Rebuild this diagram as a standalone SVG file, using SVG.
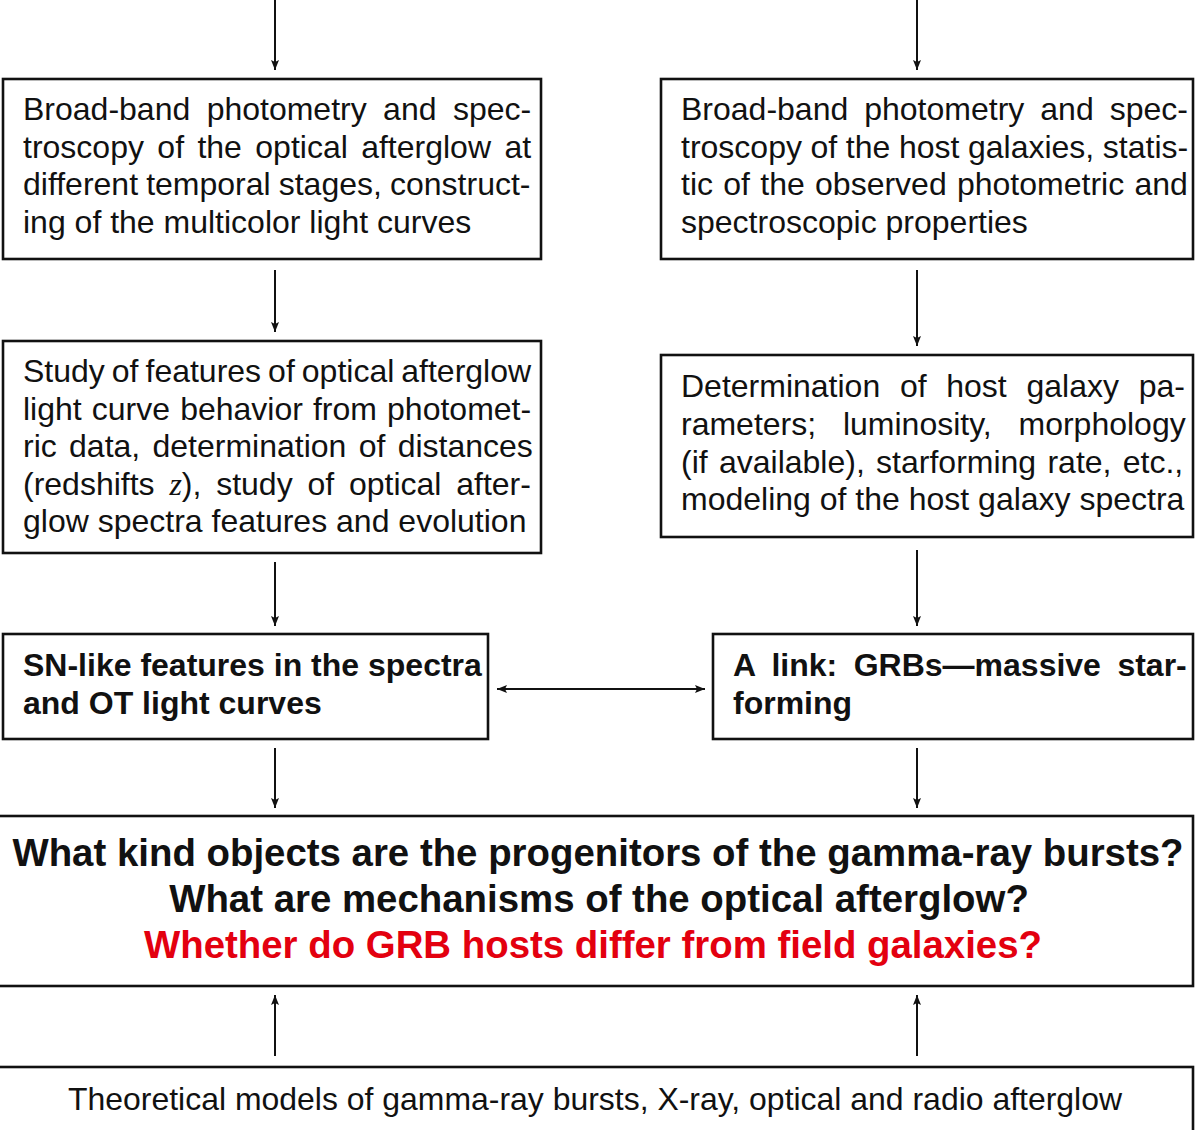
<svg xmlns="http://www.w3.org/2000/svg" width="1195" height="1130" viewBox="0 0 1195 1130">
<style>
.box{fill:#fff;stroke:#111;stroke-width:2.6}
.t{font-family:"Liberation Sans",Arial,Helvetica,sans-serif;font-size:32px;fill:#111}
.b{font-family:"Liberation Sans",Arial,Helvetica,sans-serif;font-size:32px;font-weight:bold;fill:#111}
.q{font-family:"Liberation Sans",Arial,Helvetica,sans-serif;font-size:38.4px;font-weight:bold;fill:#111;text-anchor:middle}
.red{fill:#e3000f}
.m{font-family:"Liberation Serif","Times New Roman",serif;font-style:italic}
.c{stroke:#111;stroke-width:2;fill:none}
</style>
<defs>
<marker id="ah" markerUnits="userSpaceOnUse" markerWidth="12" markerHeight="10" refX="10" refY="4" orient="auto-start-reverse">
<path d="M0,0 L10,4 L0,8 L2,4 z" fill="#111"/>
</marker>
</defs>
<g id="connectors">
<line class="c" x1="275" y1="0" x2="275" y2="70" marker-end="url(#ah)"/>
<line class="c" x1="917" y1="0" x2="917" y2="70" marker-end="url(#ah)"/>
<line class="c" x1="275" y1="270" x2="275" y2="332" marker-end="url(#ah)"/>
<line class="c" x1="917" y1="270" x2="917" y2="346" marker-end="url(#ah)"/>
<line class="c" x1="275" y1="562" x2="275" y2="626" marker-end="url(#ah)"/>
<line class="c" x1="917" y1="550" x2="917" y2="626" marker-end="url(#ah)"/>
<line class="c" x1="497" y1="689" x2="705" y2="689" marker-start="url(#ah)" marker-end="url(#ah)"/>
<line class="c" x1="275" y1="748" x2="275" y2="808" marker-end="url(#ah)"/>
<line class="c" x1="917" y1="748" x2="917" y2="808" marker-end="url(#ah)"/>
<line class="c" x1="275" y1="1056" x2="275" y2="995" marker-end="url(#ah)"/>
<line class="c" x1="917" y1="1056" x2="917" y2="995" marker-end="url(#ah)"/>
</g>
<g id="n-left-1">
<rect class="box" x="3" y="79" width="538" height="180"/>
<text class="t" x="23" y="120" word-spacing="7.5">Broad-band photometry and spec-</text>
<text class="t" x="23" y="157.5" word-spacing="4.5">troscopy of the optical afterglow at</text>
<text class="t" x="23" y="195" word-spacing="-0.8">different temporal stages, construct-</text>
<text class="t" x="23" y="232.5">ing of the multicolor light curves</text>
</g>
<g id="n-right-1">
<rect class="box" x="661" y="79" width="532" height="180"/>
<text class="t" x="681" y="120" word-spacing="7.1">Broad-band photometry and spec-</text>
<text class="t" x="681" y="157.5" word-spacing="-0.3">troscopy of the host galaxies, statis-</text>
<text class="t" x="681" y="195" word-spacing="1.4">tic of the observed photometric and</text>
<text class="t" x="681" y="232.5">spectroscopic properties</text>
</g>
<g id="n-left-2">
<rect class="box" x="3" y="341" width="538" height="212"/>
<text class="t" x="23" y="382" word-spacing="-1.9">Study of features of optical afterglow</text>
<text class="t" x="23" y="419.5" word-spacing="1.2">light curve behavior from photomet-</text>
<text class="t" x="23" y="457" word-spacing="3.4">ric data, determination of distances</text>
<text class="t" x="23" y="494.5" word-spacing="5.9">(redshifts <tspan class="m">z</tspan>), study of optical after-</text>
<text class="t" x="23" y="532">glow spectra features and evolution</text>
</g>
<g id="n-right-2">
<rect class="box" x="661" y="355" width="532" height="182"/>
<text class="t" x="681" y="397" word-spacing="10.8">Determination of host galaxy pa-</text>
<text class="t" x="681" y="435" word-spacing="17.9">rameters; luminosity, morphology</text>
<text class="t" x="681" y="472.5" word-spacing="2.4">(if available), starforming rate, etc.,</text>
<text class="t" x="681" y="510">modeling of the host galaxy spectra</text>
</g>
<g id="n-left-3">
<rect class="box" x="3" y="634" width="485" height="105"/>
<text class="b" x="23" y="676">SN-like features in the spectra</text>
<text class="b" x="23" y="714">and OT light curves</text>
</g>
<g id="n-right-3">
<rect class="box" x="713" y="634" width="480" height="105"/>
<text class="b" x="733" y="676" word-spacing="7.6">A link: GRBs—massive star-</text>
<text class="b" x="733" y="714">forming</text>
</g>
<g id="n-questions">
<rect class="box" x="-3" y="816" width="1196" height="170"/>
<text class="q" x="598" y="866">What kind objects are the progenitors of the gamma-ray bursts?</text>
<text class="q" x="599" y="912">What are mechanisms of the optical afterglow?</text>
<text class="q red" x="593" y="958">Whether do GRB hosts differ from field galaxies?</text>
</g>
<g id="n-theory">
<rect class="box" x="-3" y="1067" width="1196" height="80"/>
<text class="t" x="68" y="1110" textLength="1054" lengthAdjust="spacingAndGlyphs">Theoretical models of gamma-ray bursts, X-ray, optical and radio afterglow</text>
</g>
</svg>
